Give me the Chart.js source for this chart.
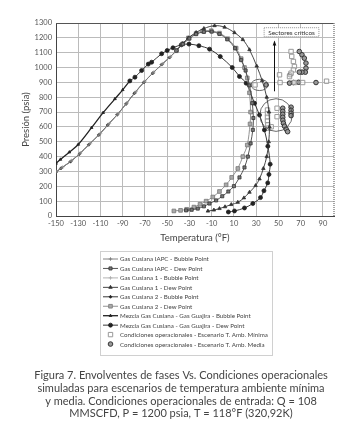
<!DOCTYPE html>
<html><head><meta charset="utf-8">
<script src="https://cdn.jsdelivr.net/npm/chart.js@4.4.1/dist/chart.umd.min.js"></script>
<style>html,body{margin:0;padding:0;background:#fff;}canvas{display:block;}</style>
</head><body>
<canvas id="c" width="360" height="436" style="width:360px;height:436px"></canvas>
<script>
// ---------- Tick labels ----------
const xTicks = [-150,-130,-110,-90,-70,-50,-30,-10,10,30,50,70,90];
const yTicks = [0,100,200,300,400,500,600,700,800,900,1000,1100,1200,1300];

// ---------- Series labels ----------
const seriesLabels = [
  'Gas Cusiana IAPC - Bubble Point',
  'Gas Cusiana IAPC - Dew Point',
  'Gas Cusiana 1 - Bubble Point',
  'Gas Cusiana 1 - Dew Point',
  'Gas Cusiana 2 - Bubble Point',
  'Gas Cusiana 2 - Dew Point',
  'Mezcla Gas Cusiana - Gas Guajira - Bubble Point',
  'Mezcla Gas Cusiana - Gas Guajira - Dew Point',
  'Condiciones operacionales - Escenario T. Amb. M\u00ednima',
  'Condiciones operacionales - Escenario T. Amb. Media'
];

// ---------- Series values [T (°F), P (psia)] ----------
const iapcBubble = [[-150,297],[-145,324],[-136.5,370],[-128.5,421],[-120,484],[-111,550],[-103,617],[-94.7,685],[-86.6,759],[-79,831],[-70.8,902],[-62.7,964],[-54.6,1022],[-47.5,1070],[-41.7,1115]];
const iapcDew = [[-41.7,1115],[-36,1158],[-30,1195],[-24,1225],[-17,1240],[-10,1242],[-3,1226],[4,1190],[11,1130],[16.5,1050],[20.5,980],[24,880],[26.5,760],[27.5,660],[27,580],[25,489],[22.5,400],[19.5,327],[15,260],[10,201],[5,165],[-0.5,133],[-6,105],[-12,84],[-17,65],[-22.5,50],[-28,42],[-33,38]];
const c1Bubble = [[-150,299],[-144,330],[-136,374],[-128,425],[-119,490],[-110,556],[-102,623],[-94,690],[-86,763],[-78,838],[-70,908],[-62,970],[-54,1026],[-47,1074],[-41.7,1118]];
const c1Dew = [[-41.7,1118],[-36,1162],[-31,1200],[-24,1236],[-17,1263],[-7.4,1282],[1.6,1272],[10.5,1235],[18,1188],[24,1120],[30.5,1010],[35.4,912],[39.5,800],[41.5,700],[42,600],[41.3,500],[39.5,400],[36.5,320],[33,250],[29.5,205],[24,160],[19,122],[13.5,92],[7.6,77],[2,62],[-3,50],[-8,40],[-13.4,33]];
const c2Bubble = [[-150,296],[-145.5,321],[-137,366],[-129,417],[-120.5,480],[-111.5,546],[-103.5,613],[-95,682],[-87,755],[-79.5,827],[-71,900],[-63,962],[-55,1020],[-48,1067],[-41.7,1113]];
const c2Dew = [[-41.7,1113],[-36,1160],[-31,1199],[-24,1230],[-18,1246],[-10.4,1248],[-3,1232],[4.5,1194],[12,1131],[16.5,1060],[19.5,1000],[22,930],[24,830],[25,700],[24.5,620],[22,478],[18,400],[13.5,320],[8,260],[3,210],[-3,165],[-9,128],[-15,100],[-20.5,79],[-26,60],[-32.5,45],[-38,38],[-44,34]];
const mezclaBubble = [[-150,354],[-146,381],[-138,430],[-130,482],[-118,595],[-107.6,696],[-97,789],[-90,850],[-83.6,910]];
const mezclaDew = [[-83.6,910],[-79,935],[-73,980],[-67,1023],[-64,1036],[-55,1093],[-50,1115],[-44.8,1133],[-37.3,1153],[-30.4,1158],[-21.5,1147],[-11.9,1124],[-2.3,1074],[8.5,1000],[15,940],[21,895],[28.5,760],[33,680],[37.4,580],[40.5,470],[42.6,349],[41.5,280],[40.4,223],[37,170],[33.9,124],[27,84],[19.5,54],[10.5,34],[5,27]];
const opMinima = [[61.4,1108],[62,1075],[63.5,1041],[64.4,1007],[63.5,984],[61.4,962],[60,939],[51,951],[51.5,899],[64.4,899],[71.8,899],[93.3,908],[29,883],[40.2,714],[40.2,690],[40.2,665],[40.2,640],[40.5,615],[41,592],[43.5,601],[48.8,726],[48.8,669]];
const opMedia = [[68.8,1108],[71.2,1086],[73.3,1063],[74.8,1030],[74.8,996],[74.2,969],[71.2,969],[68.8,969],[60.5,951],[60,895],[63.5,899],[68.2,901],[83.8,899],[39,883],[53.9,726],[53.9,705],[53.9,685],[53.9,665],[54,645],[54.5,625],[55.5,605],[57,585],[58.3,568],[61.4,733],[61.4,712],[61.4,692],[61.4,676]];

// ---------- Annotations (data coordinates) ----------
const noteText = 'Sectores cr\u00edticos';
const noteAt = [61.8, 1238];
const arrowT = 45.8, arrowFromP = 840, arrowToP = 1175;
const ellipseSmall = {t: 33, p: 883, dt: 7.6, dp: 38};
const ellipseBig = {t: 47.9, p: 680, dt: 14.6, dp: 110};

const captionLines = [
  'Figura 7. Envolventes de fases Vs. Condiciones operacionales',
  'simuladas para escenarios de temperatura ambiente m\u00ednima',
  'y media. Condiciones operacionales de entrada: Q = 108',
  'MMSCFD, P = 1200 psia, T = 118\u00b0F (320,92K)'
];

const toXY = arr => arr.map(([x, y]) => ({x, y}));
const FONT = 'Lato, "Open Sans", sans-serif';

function lineDs(label, data, color, width, pStyle, pRad, pFill, pBorder) {
  return {
    label, data: toXY(data), showLine: true, tension: 0.35,
    borderColor: color, borderWidth: width,
    pointStyle: pStyle, pointRadius: pRad, pointBackgroundColor: pFill,
    pointBorderColor: pBorder, pointBorderWidth: 0.8, pointHoverRadius: pRad
  };
}

const datasets = [
  lineDs(seriesLabels[0], iapcBubble, '#777', 0.9, 'cross', 1.8, '#777', '#777'),
  lineDs(seriesLabels[1], iapcDew, '#444', 0.9, 'rect', 2.2, '#777', '#333'),
  lineDs(seriesLabels[2], c1Bubble, '#aaa', 0.9, 'cross', 1.8, '#aaa', '#aaa'),
  lineDs(seriesLabels[3], c1Dew, '#333', 0.9, 'triangle', 2.0, '#333', '#333'),
  lineDs(seriesLabels[4], c2Bubble, '#222', 0.9, 'rectRot', 1.5, '#222', '#222'),
  lineDs(seriesLabels[5], c2Dew, '#888', 0.9, 'rect', 2.6, '#aaa', '#777'),
  lineDs(seriesLabels[6], mezclaBubble, '#222', 1.3, 'triangle', 1.6, '#222', '#222'),
  lineDs(seriesLabels[7], mezclaDew, '#222', 0.9, 'circle', 2.0, '#222', '#222'),
  {label: seriesLabels[8], data: toXY(opMinima), showLine: false, pointStyle: 'rect', pointRadius: 3.1,
   pointBackgroundColor: 'rgba(255,255,255,0.6)', pointBorderColor: '#999', pointBorderWidth: 1},
  {label: seriesLabels[9], data: toXY(opMedia), showLine: false, pointStyle: 'circle', pointRadius: 2.3,
   pointBackgroundColor: '#999', pointBorderColor: '#333', pointBorderWidth: 1}
];

const extras = {
  id: 'extras',
  afterDraw(chart) {
    const ctx = chart.ctx, a = chart.chartArea;
    const xs = chart.scales.x, ys = chart.scales.y;
    ctx.save();
    // frame top / right
    ctx.strokeStyle = '#555'; ctx.lineWidth = 1; ctx.setLineDash([]);
    ctx.beginPath(); ctx.moveTo(a.left, a.top + 0.5); ctx.lineTo(a.right, a.top + 0.5); ctx.stroke();
    ctx.strokeStyle = '#888'; ctx.lineWidth = 1.5; ctx.setLineDash([1, 1]);
    ctx.beginPath(); ctx.moveTo(a.right, a.top); ctx.lineTo(a.right, a.bottom); ctx.stroke();
    ctx.setLineDash([]);

    // ellipses
    ctx.strokeStyle = '#444'; ctx.lineWidth = 0.8;
    [ellipseSmall, ellipseBig].forEach(e => {
      const cx = xs.getPixelForValue(e.t), cy = ys.getPixelForValue(e.p);
      const rx = Math.abs(xs.getPixelForValue(e.t + e.dt) - cx);
      const ry = Math.abs(ys.getPixelForValue(e.p + e.dp) - cy);
      ctx.beginPath(); ctx.ellipse(cx, cy, rx, ry, 0, 0, Math.PI * 2); ctx.stroke();
    });

    // arrow
    const ax = Math.round(xs.getPixelForValue(arrowT)) + 0.5;
    const ay0 = ys.getPixelForValue(arrowFromP), ay1 = ys.getPixelForValue(arrowToP);
    ctx.strokeStyle = '#111'; ctx.lineWidth = 1;
    ctx.beginPath(); ctx.moveTo(ax, ay0); ctx.lineTo(ax, ay1); ctx.stroke();
    ctx.fillStyle = '#111';
    ctx.beginPath(); ctx.moveTo(ax, ay1 - 1); ctx.lineTo(ax - 1.8, ay1 + 4); ctx.lineTo(ax + 1.8, ay1 + 4); ctx.closePath(); ctx.fill();

    // note box
    ctx.font = '6.5px ' + FONT;
    const nx = xs.getPixelForValue(noteAt[0]), ny = ys.getPixelForValue(noteAt[1]);
    const tw = ctx.measureText(noteText).width;
    ctx.fillStyle = '#fff';
    ctx.fillRect(nx - tw / 2 - 4, ny - 4.5, tw + 8, 9);
    ctx.strokeStyle = '#777'; ctx.lineWidth = 0.8; ctx.setLineDash([1, 1]);
    ctx.strokeRect(nx - tw / 2 - 4, ny - 4.5, tw + 8, 9);
    ctx.setLineDash([]);
    ctx.fillStyle = '#333'; ctx.textAlign = 'center'; ctx.textBaseline = 'middle';
    ctx.fillText(noteText, nx, ny + 0.5);

    // legend box
    const lx0 = 100.5, ly0 = 251.5, lx1 = 272.5, ly1 = 355.5;
    ctx.strokeStyle = '#888'; ctx.lineWidth = 0.8; ctx.setLineDash([1, 1]);
    ctx.strokeRect(lx0, ly0, lx1 - lx0, ly1 - ly0);
    ctx.setLineDash([]);
    const H = Chart.helpers;
    chart.data.datasets.forEach((ds, i) => {
      const y = 259 + i * 9.45;
      if (ds.showLine) {
        ctx.strokeStyle = ds.borderColor; ctx.lineWidth = ds.borderWidth;
        ctx.beginPath(); ctx.moveTo(103, y); ctx.lineTo(118, y); ctx.stroke();
      }
      ctx.fillStyle = ds.pointBackgroundColor; ctx.strokeStyle = ds.pointBorderColor;
      ctx.lineWidth = ds.pointBorderWidth || 1;
      H.drawPoint(ctx, {pointStyle: ds.pointStyle, radius: ds.pointRadius, rotation: 0, borderWidth: ds.pointBorderWidth || 1}, 110.5, y);
      ctx.fillStyle = '#444'; ctx.textAlign = 'left'; ctx.textBaseline = 'middle';
      ctx.font = '6.2px ' + FONT;
      ctx.fillText(ds.label, 120, y + 0.5);
    });

    // caption
    ctx.fillStyle = '#444'; ctx.textAlign = 'center'; ctx.textBaseline = 'middle';
    ctx.font = '11px ' + FONT;
    captionLines.forEach((t, i) => ctx.fillText(t, 181, 375.5 + i * 12.8));
    ctx.restore();
  }
};

new Chart(document.getElementById('c'), {
  type: 'scatter',
  data: {datasets},
  options: {
    responsive: false, animation: false, devicePixelRatio: 1,
    layout: {padding: {left: 0, right: 26, top: 23, bottom: 190}},
    plugins: {legend: {display: false}, tooltip: {enabled: false}},
    scales: {
      x: {
        type: 'linear', min: -150, max: 100,
        afterBuildTicks: s => { s.ticks = xTicks.map(v => ({value: v})); },
        afterFit: s => { s.height = 30; },
        grid: {color: '#bbb', borderDash: [1, 2], drawTicks: false, lineWidth: 1},
        border: {display: true, color: '#444', width: 1},
        ticks: {font: {family: FONT, size: 7.5}, color: '#555', padding: 3, maxRotation: 0, autoSkip: false, callback: v => String(v)},
        title: {display: true, text: 'Temperatura (\u00b0F)', font: {family: FONT, size: 9.5}, color: '#444', padding: {top: 0, bottom: 2}}
      },
      y: {
        type: 'linear', min: 0, max: 1300,
        afterBuildTicks: s => { s.ticks = yTicks.map(v => ({value: v})); },
        afterFit: s => { s.width = 56; },
        grid: {color: '#bbb', borderDash: [1, 2], drawTicks: false, lineWidth: 1},
        border: {display: true, color: '#444', width: 1},
        ticks: {font: {family: FONT, size: 7.5}, color: '#555', padding: 4, autoSkip: false, callback: v => String(v)},
        title: {display: true, text: 'Presi\u00f3n (psia)', font: {family: FONT, size: 9.5}, color: '#444', padding: {top: 20, bottom: 0}}
      }
    }
  },
  plugins: [extras]
});
</script>
</body></html>
